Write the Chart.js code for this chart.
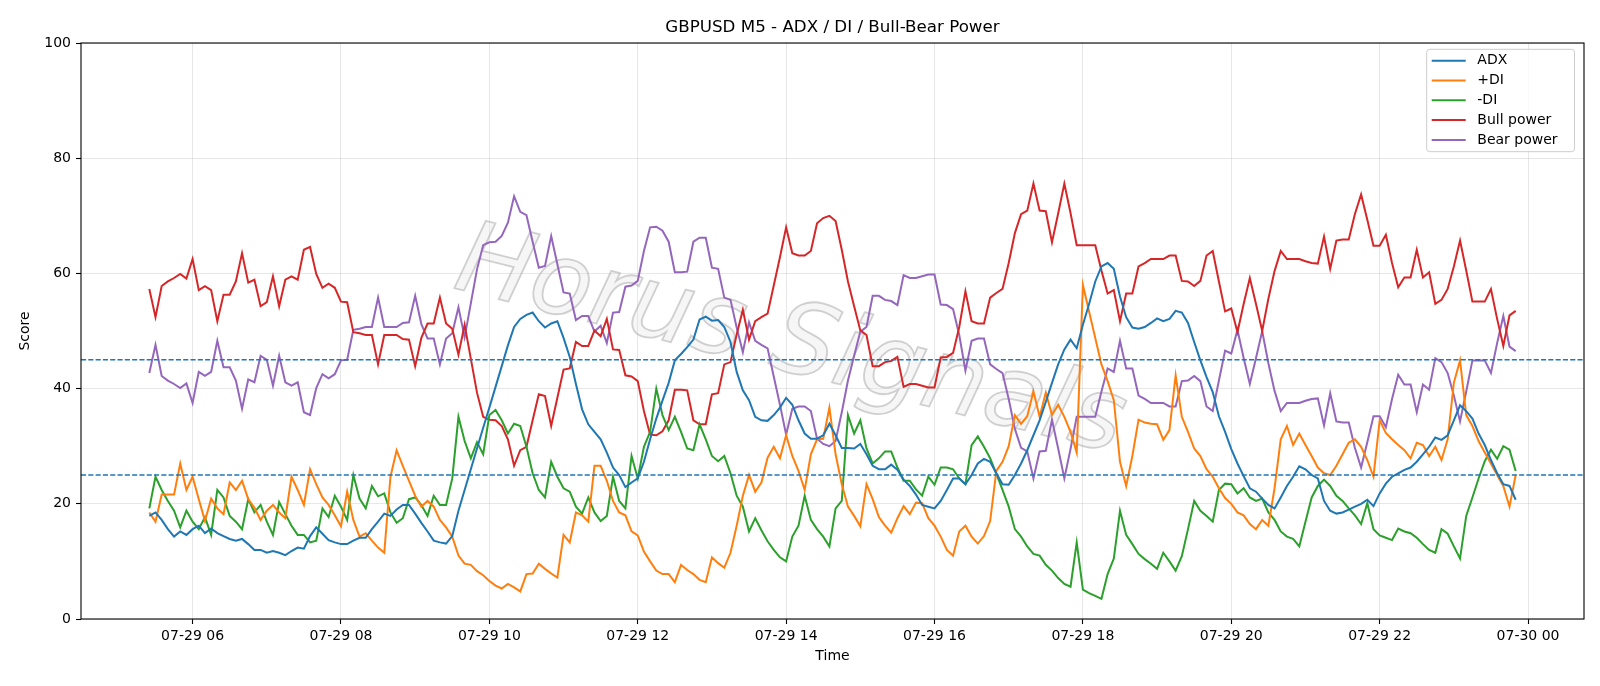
<!DOCTYPE html>
<html>
<head>
<meta charset="utf-8">
<script src="https://cdn.jsdelivr.net/npm/chart.js@4.4.1/dist/chart.umd.min.js"></script>
<style>
  html, body { margin: 0; padding: 0; background: #fff; }
  canvas { display: block; }
</style>
</head>
<body>
<canvas id="chart" width="1600" height="686"></canvas>
<script>
// M5 bars on 07-29, first bar 05:25, last bar 23:50 (minutes from 07-29 00:00)
const startMinute = 5 * 60 + 25;
const stepMinutes = 5;

const adx = [
  17.9, 18.5, 17.2, 15.6, 14.3, 15.2, 14.6, 15.6, 16.2, 14.9,
  15.7, 14.9, 14.4, 13.9, 13.6, 13.9, 13.0, 12.0, 12.0, 11.5,
  11.8, 11.5, 11.1, 11.8, 12.4, 12.2, 14.4, 15.9, 14.8, 13.7,
  13.3, 13.0, 13.0, 13.6, 14.1, 14.1, 15.6, 16.9, 18.3, 17.9,
  19.0, 19.8, 19.8, 18.3, 16.7, 15.2, 13.6, 13.3, 13.1, 14.4,
  18.8, 22.4, 26.0, 29.6, 33.2, 36.7, 40.3, 43.9, 47.5, 50.7,
  52.1, 52.8, 53.2, 51.7, 50.6, 51.3, 51.7, 48.8, 45.5, 40.8,
  36.4, 33.8, 32.5, 31.2, 28.9, 26.3, 25.0, 22.9, 23.7, 24.4,
  27.3, 31.2, 34.8, 37.9, 41.0, 44.9, 46.0, 47.2, 48.5, 52.0,
  52.5, 51.8, 51.9, 50.7, 48.1, 42.9, 39.7, 38.0, 35.1, 34.5,
  34.4, 35.4, 36.7, 38.4, 37.2, 34.5, 32.2, 31.3, 31.3, 31.9,
  33.9, 31.9, 29.7, 29.7, 29.6, 30.4, 28.6, 26.6, 26.0, 26.0,
  26.8, 25.9, 24.2, 23.1, 21.6, 19.8, 19.5, 19.2, 20.5, 22.4,
  24.4, 24.4, 23.4, 25.0, 27.0, 27.8, 27.3, 25.3, 23.4, 23.3,
  25.0, 27.0, 29.3, 31.9, 34.5, 37.7, 41.0, 44.2, 46.8, 48.5,
  47.0, 51.1, 54.7, 58.6, 61.2, 61.8, 60.8, 56.0, 52.4, 50.6,
  50.4, 50.7, 51.4, 52.2, 51.7, 52.1, 53.5, 53.2, 51.4, 48.1,
  44.9, 42.0, 39.4, 35.2, 32.5, 29.5, 27.0, 24.8, 22.7, 22.1,
  20.9, 19.8, 19.2, 21.1, 23.1, 24.7, 26.5, 26.0, 25.0, 24.4,
  20.5, 18.8, 18.3, 18.5, 19.0, 19.5, 20.0, 20.7, 19.6, 21.8,
  23.5, 24.7, 25.3, 25.9, 26.3, 27.3, 28.6, 29.9, 31.5, 31.1,
  31.9, 34.5, 37.1, 36.1, 34.8, 32.2, 30.2, 27.6, 25.3, 23.4,
  23.1, 20.7
];

const plusDI = [
  18.5, 16.9, 21.6, 21.6, 21.6, 27.0, 22.4, 24.7, 20.8, 17.0,
  20.9, 19.2, 18.2, 23.7, 22.4, 24.0, 20.8, 19.3, 17.2, 18.8,
  19.8, 18.5, 17.5, 24.7, 22.4, 19.8, 26.0, 23.4, 21.1, 19.8,
  18.0, 16.1, 22.1, 17.2, 14.3, 14.9, 13.6, 12.4, 11.5, 24.7,
  29.3, 26.6, 24.0, 21.4, 19.5, 20.5, 19.5, 17.2, 15.9, 14.3,
  11.0, 9.6, 9.4, 8.3, 7.6, 6.6, 5.8, 5.3, 6.1, 5.5,
  4.8, 7.8, 7.9, 9.6, 8.7, 7.9, 7.2, 14.6, 13.3, 18.5,
  18.0, 16.9, 26.6, 26.6, 24.0, 20.5, 18.5, 18.0, 15.2, 14.5,
  11.7, 10.0, 8.4, 7.8, 7.8, 6.4, 9.4, 8.5, 7.8, 6.8,
  6.4, 10.7, 9.7, 8.9, 11.5, 16.2, 21.4, 25.0, 22.1, 23.7,
  28.0, 29.9, 27.9, 31.9, 28.3, 25.7, 22.4, 28.6, 31.2, 31.3,
  36.7, 28.6, 23.4, 19.5, 17.9, 16.1, 23.4, 20.8, 17.7, 16.2,
  15.0, 17.5, 19.6, 18.2, 20.2, 20.1, 17.5, 16.2, 14.3, 12.0,
  11.0, 15.2, 16.2, 14.3, 13.1, 14.4, 17.0, 25.7, 27.3, 30.0,
  35.4, 33.9, 35.2, 39.5, 35.1, 39.3, 35.4, 37.2, 35.1, 32.5,
  28.9, 58.0, 53.4, 48.8, 44.2, 41.3, 38.0, 27.3, 23.1, 28.3,
  34.6, 34.1, 33.9, 33.8, 31.1, 32.8, 42.3, 35.1, 32.5, 29.6,
  28.3, 26.0, 24.7, 22.7, 21.0, 20.0, 18.5, 18.0, 16.5, 15.6,
  17.2, 16.2, 22.7, 31.2, 33.5, 30.2, 32.2, 30.2, 28.3, 26.3,
  25.3, 25.0, 26.6, 28.6, 30.6, 31.2, 29.9, 27.6, 24.7, 34.5,
  32.3, 31.2, 30.2, 29.3, 27.9, 30.6, 30.2, 28.3, 29.9, 27.6,
  31.2, 41.0, 44.9, 35.4, 33.5, 30.9, 28.9, 27.0, 25.0, 23.1,
  19.5, 25.0
];

const minusDI = [
  19.2, 24.7, 22.4, 20.5, 18.8, 15.9, 18.8, 16.9, 15.6, 17.7,
  14.6, 22.4, 21.1, 17.9, 16.9, 15.6, 20.8, 18.5, 19.8, 16.9,
  14.6, 20.3, 18.2, 16.2, 14.6, 14.6, 13.3, 13.6, 19.2, 17.7,
  21.4, 19.5, 17.2, 25.0, 20.9, 19.2, 23.1, 21.3, 21.8, 18.5,
  16.7, 17.5, 20.8, 21.1, 19.8, 17.9, 21.4, 19.8, 19.8, 24.4,
  35.1, 30.9, 27.9, 30.7, 28.6, 35.4, 36.3, 34.5, 32.2, 33.9,
  33.5, 29.9, 25.3, 22.4, 21.1, 27.3, 24.7, 22.7, 22.1, 19.5,
  18.3, 21.1, 18.5, 17.0, 17.9, 24.7, 20.5, 19.2, 28.3, 24.4,
  29.9, 32.5, 40.0, 35.4, 32.8, 35.1, 32.5, 29.6, 29.3, 33.8,
  31.2, 28.3, 27.4, 28.3, 25.3, 21.4, 19.5, 15.2, 17.5, 15.4,
  13.5, 12.0, 10.7, 10.0, 14.3, 16.2, 21.4, 17.2, 15.6, 14.3,
  12.6, 19.2, 20.5, 35.4, 32.2, 34.5, 29.6, 27.0, 27.9, 29.1,
  29.1, 26.3, 24.0, 24.0, 22.5, 21.4, 24.7, 23.3, 26.3, 26.3,
  26.0, 24.4, 23.4, 30.2, 31.7, 29.9, 27.9, 25.2, 22.4, 19.5,
  15.6, 14.3, 12.6, 11.3, 11.0, 9.4, 8.4, 7.1, 6.1, 5.6,
  13.3, 5.1, 4.5, 4.0, 3.5, 7.8, 10.5, 18.8, 14.6, 13.0,
  11.3, 10.4, 9.6, 8.7, 11.5, 10.0, 8.4, 10.9, 15.6, 20.5,
  18.8, 17.9, 16.9, 22.4, 23.5, 23.4, 21.8, 22.7, 21.1, 20.5,
  20.9, 18.5, 17.2, 15.2, 14.3, 13.9, 12.6, 16.9, 21.1, 23.1,
  24.2, 23.1, 21.4, 20.5, 19.2, 18.0, 16.5, 20.1, 15.6, 14.5,
  14.1, 13.7, 15.7, 15.2, 14.9, 14.1, 13.0, 12.0, 11.5, 15.6,
  14.8, 12.6, 10.5, 17.9, 21.1, 24.4, 27.4, 29.4, 27.8, 30.0,
  29.4, 25.7
];

const bullPower = [
  57.3, 52.4, 57.8, 58.6, 59.2, 59.9, 59.1, 62.5, 57.1, 57.8,
  57.1, 51.7, 56.3, 56.3, 58.6, 63.5, 58.4, 58.9, 54.3, 55.0,
  59.5, 54.3, 58.9, 59.5, 58.9, 64.1, 64.6, 59.9, 57.5, 58.2,
  57.5, 55.1, 55.0, 49.8, 49.6, 49.3, 49.3, 44.2, 49.3, 49.3,
  49.3, 48.6, 48.5, 43.9, 48.8, 51.3, 51.3, 55.8, 51.3, 50.4,
  45.9, 51.1, 45.2, 39.3, 35.1, 34.6, 34.5, 33.5, 31.2, 26.6,
  29.3, 29.9, 34.5, 39.0, 38.7, 33.5, 38.4, 43.3, 43.5, 48.1,
  47.4, 47.4, 50.1, 49.1, 52.1, 46.8, 46.7, 42.3, 42.1, 41.3,
  36.1, 32.0, 31.9, 32.6, 34.5, 39.8, 39.8, 39.7, 34.5, 33.8,
  33.8, 39.0, 39.2, 44.2, 44.6, 49.4, 53.7, 48.5, 51.7, 52.4,
  53.0, 57.9, 62.8, 68.0, 63.5, 63.1, 63.1, 63.9, 68.7, 69.6,
  70.0, 69.1, 64.1, 58.6, 54.3, 50.1, 49.3, 43.9, 43.9, 44.6,
  44.8, 45.5, 40.3, 40.8, 40.8, 40.5, 40.2, 40.2, 45.4, 45.5,
  46.2, 50.7, 56.9, 51.7, 51.3, 51.3, 55.8, 56.6, 57.3, 61.8,
  67.0, 70.3, 70.9, 75.6, 70.9, 70.8, 65.4, 70.4, 75.6, 70.5,
  64.9, 64.9, 64.9, 64.9, 60.5, 56.5, 57.1, 51.7, 56.5, 56.5,
  61.2, 61.8, 62.5, 62.5, 62.5, 63.1, 63.1, 58.7, 58.6, 57.8,
  58.7, 63.1, 63.9, 58.6, 53.4, 53.9, 49.8, 54.7, 59.2, 54.7,
  50.0, 55.6, 60.4, 63.9, 62.5, 62.5, 62.5, 62.1, 61.8, 61.7,
  66.4, 60.8, 65.7, 65.9, 65.9, 70.3, 73.7, 69.3, 64.8, 64.8,
  66.7, 61.8, 57.6, 59.3, 59.3, 64.1, 59.3, 60.2, 54.7, 55.4,
  57.3, 61.2, 65.7, 60.5, 55.1, 55.1, 55.1, 57.3, 52.1, 47.4,
  52.7, 53.5
];

const bearPower = [
  42.7, 47.6, 42.2, 41.4, 40.8, 40.1, 40.9, 37.5, 42.9, 42.2,
  42.9, 48.3, 43.7, 43.7, 41.4, 36.5, 41.6, 41.1, 45.7, 45.0,
  40.5, 45.7, 41.1, 40.5, 41.1, 35.9, 35.4, 40.1, 42.5, 41.8,
  42.5, 44.9, 45.0, 50.2, 50.4, 50.7, 50.7, 55.8, 50.7, 50.7,
  50.7, 51.4, 51.5, 56.1, 51.2, 48.7, 48.7, 44.2, 48.7, 49.6,
  54.1, 48.9, 54.8, 60.7, 64.9, 65.4, 65.5, 66.5, 68.8, 73.4,
  70.7, 70.1, 65.5, 61.0, 61.3, 66.5, 61.6, 56.7, 56.5, 51.9,
  52.6, 52.6, 49.9, 50.9, 47.9, 53.2, 53.3, 57.7, 57.9, 58.7,
  63.9, 68.0, 68.1, 67.4, 65.5, 60.2, 60.2, 60.3, 65.5, 66.2,
  66.2, 61.0, 60.8, 55.8, 55.4, 50.6, 46.3, 51.5, 48.3, 47.6,
  47.0, 42.1, 37.2, 32.0, 36.5, 36.9, 36.9, 36.1, 31.3, 30.4,
  30.0, 30.9, 35.9, 41.4, 45.7, 49.9, 50.7, 56.1, 56.1, 55.4,
  55.2, 54.5, 59.7, 59.2, 59.2, 59.5, 59.8, 59.8, 54.6, 54.5,
  53.8, 49.3, 43.1, 48.3, 48.7, 48.7, 44.2, 43.4, 42.7, 38.2,
  33.0, 29.7, 29.1, 24.4, 29.1, 29.2, 34.6, 29.6, 24.4, 29.5,
  35.1, 35.1, 35.1, 35.1, 39.5, 43.5, 42.9, 48.3, 43.5, 43.5,
  38.8, 38.2, 37.5, 37.5, 37.5, 36.9, 36.9, 41.3, 41.4, 42.2,
  41.3, 36.9, 36.1, 41.4, 46.6, 46.1, 50.2, 45.3, 40.8, 45.3,
  50.0, 44.4, 39.6, 36.1, 37.5, 37.5, 37.5, 37.9, 38.2, 38.3,
  33.6, 39.2, 34.3, 34.1, 34.1, 29.7, 26.3, 30.7, 35.2, 35.2,
  33.3, 38.2, 42.4, 40.7, 40.7, 35.9, 40.7, 39.8, 45.3, 44.6,
  42.7, 38.8, 34.3, 39.5, 44.9, 44.9, 44.9, 42.7, 47.9, 52.6,
  47.3, 46.5
];

const seriesNames = ['ADX', '+DI', '-DI', 'Bull power', 'Bear power'];
const seriesColors = ['#1f77b4', '#ff7f0e', '#2ca02c', '#d62728', '#9467bd'];
const thresholds = [25, 45];
const watermark = 'Horus Signals';

const tickMinutes = [360, 480, 600, 720, 840, 960, 1080, 1200, 1320, 1440];
const tickLabels = ['07-29 06', '07-29 08', '07-29 10', '07-29 12', '07-29 14',
                    '07-29 16', '07-29 18', '07-29 20', '07-29 22', '07-30 00'];

const times = adx.map((_, i) => startMinute + i * stepMinutes);
const span = times[times.length - 1] - times[0];
const xMin = times[0] - span * 0.05;
const xMax = times[times.length - 1] + span * 0.05;

const FONT = 'DejaVu Sans';
Chart.defaults.font.family = FONT;
Chart.defaults.color = '#000';

const toPoints = arr => arr.map((v, i) => ({x: times[i], y: v}));

const decorations = {
  id: 'decorations',
  beforeDatasetsDraw(chart) {
    // faint rotated watermark behind the lines
    const {ctx} = chart;
    ctx.save();
    ctx.translate(790, 345);
    ctx.rotate(14 * Math.PI / 180);
    ctx.font = 'italic 100px ' + FONT;
    ctx.textAlign = 'center';
    ctx.textBaseline = 'middle';
    ctx.fillStyle = 'rgba(225,225,225,0.3)';
    ctx.fillText(watermark, 0, 0);
    ctx.strokeStyle = 'rgba(165,165,165,0.5)';
    ctx.lineWidth = 1.8;
    ctx.strokeText(watermark, 0, 0);
    ctx.restore();
  },
  afterDatasetsDraw(chart) {
    const {ctx, chartArea: a, scales: {y}} = chart;
    ctx.save();

    // reference levels
    ctx.strokeStyle = '#1f77b4';
    ctx.lineWidth = 1.4;
    ctx.setLineDash([5.1, 2.2]);
    thresholds.forEach(t => {
      const py = y.getPixelForValue(t);
      ctx.beginPath();
      ctx.moveTo(a.left, py);
      ctx.lineTo(a.right, py);
      ctx.stroke();
    });
    ctx.setLineDash([]);

    // axes frame
    ctx.strokeStyle = '#000';
    ctx.lineWidth = 1.1;
    ctx.strokeRect(a.left, a.top, a.right - a.left, a.bottom - a.top);

    // legend box, upper right
    const lx = a.right - 157.3, ly = a.top + 6.3, lw = 147.8, lh = 102.4;
    ctx.fillStyle = 'rgba(255,255,255,0.8)';
    ctx.strokeStyle = '#cccccc';
    ctx.lineWidth = 1;
    ctx.beginPath();
    ctx.roundRect(lx, ly, lw, lh, 3);
    ctx.fill();
    ctx.stroke();
    ctx.font = '14px ' + FONT;
    ctx.textBaseline = 'middle';
    ctx.textAlign = 'left';
    chart.data.datasets.forEach((ds, i) => {
      const cy = ly + 11.4 + i * 19.8;
      ctx.strokeStyle = ds.borderColor;
      ctx.lineWidth = 2;
      ctx.beginPath();
      ctx.moveTo(lx + 5, cy);
      ctx.lineTo(lx + 39, cy);
      ctx.stroke();
      ctx.fillStyle = '#000';
      ctx.fillText(ds.label, lx + 50.6, cy);
    });
    ctx.restore();
  },
  afterDraw(chart) {
    const {ctx, chartArea: a} = chart;
    const cx = (a.left + a.right) / 2;
    ctx.save();
    ctx.fillStyle = '#000';
    ctx.textAlign = 'center';
    ctx.font = '16.7px ' + FONT;
    ctx.textBaseline = 'alphabetic';
    ctx.fillText('GBPUSD M5 - ADX / DI / Bull-Bear Power', cx, 31.6);
    ctx.font = '14px ' + FONT;
    ctx.textBaseline = 'middle';
    ctx.fillText('Time', cx, 656);
    ctx.translate(25.5, (a.top + a.bottom) / 2);
    ctx.rotate(-Math.PI / 2);
    ctx.fillText('Score', 0, 0);
    ctx.restore();
  }
};

const allSeries = [adx, plusDI, minusDI, bullPower, bearPower];

new Chart(document.getElementById('chart').getContext('2d'), {
  type: 'line',
  data: {
    datasets: allSeries.map((arr, i) => ({
      label: seriesNames[i],
      data: toPoints(arr),
      borderColor: seriesColors[i],
      backgroundColor: seriesColors[i],
      borderWidth: 2,
      pointRadius: 0,
      tension: 0,
      fill: false,
    })),
  },
  options: {
    responsive: false,
    animation: false,
    devicePixelRatio: 1,
    layout: {padding: {left: 0, right: 16, top: 43, bottom: 0}},
    plugins: {
      legend: {display: false},
      title: {display: false},
      tooltip: {enabled: false},
    },
    scales: {
      x: {
        type: 'linear',
        min: xMin,
        max: xMax,
        afterBuildTicks: axis => { axis.ticks = tickMinutes.map(v => ({value: v})); },
        afterFit: scale => { scale.height = 67; },
        ticks: {
          font: {size: 14},
          padding: 4,
          maxRotation: 0,
          autoSkip: false,
          callback: value => tickLabels[tickMinutes.indexOf(value)],
        },
        grid: {color: 'rgba(176,176,176,0.3)', lineWidth: 1, tickLength: 5, tickColor: '#000', tickWidth: 1.1},
        border: {display: false},
      },
      y: {
        min: 0,
        max: 100,
        afterFit: scale => { scale.width = 81; },
        ticks: {stepSize: 20, font: {size: 14}, padding: 5},
        grid: {color: 'rgba(176,176,176,0.3)', lineWidth: 1, tickLength: 5, tickColor: '#000', tickWidth: 1.1},
        border: {display: false},
      },
    },
  },
  plugins: [decorations],
});
</script>
</body>
</html>
